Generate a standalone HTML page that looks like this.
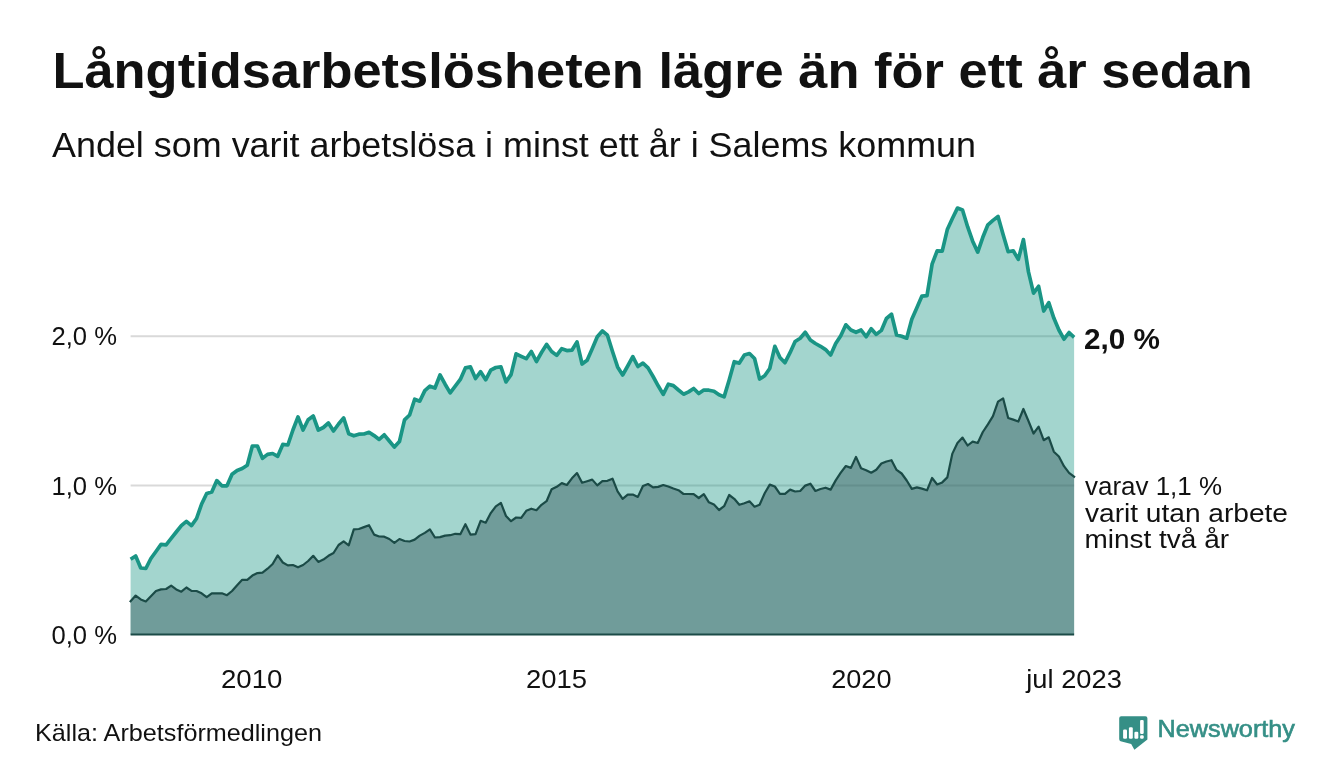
<!DOCTYPE html>
<html lang="sv"><head><meta charset="utf-8"><title>Långtidsarbetslösheten lägre än för ett år sedan</title>
<style>
html,body{margin:0;padding:0;background:#fff;}
body{width:1340px;height:780px;overflow:hidden;font-family:"Liberation Sans",sans-serif;}
svg{display:block;will-change:transform}
text{font-family:"Liberation Sans",sans-serif;}
</style></head><body>
<svg width="1340" height="780" viewBox="0 0 1340 780">
<rect width="1340" height="780" fill="#ffffff"/>
<!-- gridlines under semi-transparent fills -->
<g stroke="#d9d9d9" stroke-width="2">
<line x1="130.6" x2="1074.1222" y1="336.3" y2="336.3"/>
<line x1="130.6" x2="1074.1222" y1="485.4" y2="485.4"/>
</g>
<!-- upper series -->
<path d="M130.6,634.6 L130.6,559.2 L135.67,556 L140.75,568 L145.82,568.5 L150.89,558.5 L155.96,551.5 L161.04,544.4 L166.11,544.8 L171.18,538.4 L176.25,532 L181.33,525.6 L186.4,521.3 L191.47,525.6 L196.55,518.5 L201.62,504 L206.69,493.5 L211.76,492 L216.84,480.6 L221.91,485.8 L226.98,485.8 L232.05,474.2 L237.13,470.4 L242.2,468.5 L247.27,465.2 L252.34,446 L257.42,446 L262.49,458.3 L267.56,454.4 L272.64,453.5 L277.71,456.3 L282.78,444.4 L287.85,445 L292.93,430 L298.0,416.9 L303.07,430 L308.14,419.8 L313.22,416 L318.29,430 L323.36,427.5 L328.44,423 L333.51,431 L338.58,424 L343.65,417.9 L348.73,433.8 L353.8,435.8 L358.87,434.2 L363.94,434 L369.02,432.3 L374.09,435.6 L379.16,439.4 L384.24,434.8 L389.31,441 L394.38,447.1 L399.45,441.5 L404.53,419.8 L409.6,415 L414.67,399.2 L419.74,401.2 L424.82,390.6 L429.89,386.2 L434.96,388 L440.03,375 L445.11,384.2 L450.18,392.9 L455.25,386.2 L460.33,379.4 L465.4,367.9 L470.47,366.9 L475.54,378.5 L480.62,371.7 L485.69,379.8 L490.76,370.2 L495.83,367.5 L500.91,366.9 L505.98,381.9 L511.05,374.6 L516.13,353.8 L521.2,356.3 L526.27,358.7 L531.34,351.5 L536.42,361.5 L541.49,352.5 L546.56,344.4 L551.63,351.5 L556.71,355.4 L561.78,348.7 L566.85,350.6 L571.92,350.2 L577.0,341.9 L582.07,364 L587.14,360.2 L592.22,348.7 L597.29,336.7 L602.36,331 L607.43,335.2 L612.51,351.5 L617.58,366.9 L622.65,375 L627.72,366 L632.8,356.7 L637.87,366.5 L642.94,363.1 L648.02,367.9 L653.09,376.5 L658.16,385.8 L663.23,394.4 L668.31,384.2 L673.38,385.6 L678.45,390 L683.52,394.2 L688.6,391.9 L693.67,388.5 L698.74,393.5 L703.82,390 L708.89,390.2 L713.96,391.2 L719.03,394.8 L724.11,396.9 L729.18,380 L734.25,361.7 L739.32,363.1 L744.4,355 L749.47,353.5 L754.54,358.5 L759.61,379 L764.69,375.8 L769.76,368.5 L774.83,346.3 L779.91,357.5 L784.98,362.7 L790.05,352.7 L795.12,341.5 L800.2,338.3 L805.27,332.3 L810.34,340 L815.41,343.5 L820.49,346.3 L825.56,349.6 L830.63,355 L835.71,343.5 L840.78,335.8 L845.85,324.8 L850.92,330 L856.0,332.3 L861.07,330 L866.14,336.7 L871.21,328.7 L876.29,334.4 L881.36,330.4 L886.43,318.5 L891.51,314.2 L896.58,335 L901.65,336.2 L906.72,338.2 L911.8,319.2 L916.87,307.7 L921.94,296.1 L927.01,295.6 L932.09,264.2 L937.16,250.8 L942.23,251.2 L947.3,229.6 L952.38,218.5 L957.45,208.1 L962.52,210 L967.6,226.7 L972.67,241.2 L977.74,252.1 L982.81,237.3 L987.89,224.8 L992.96,220.4 L998.03,216.5 L1003.1,234.4 L1008.18,251.7 L1013.25,250.8 L1018.32,259.4 L1023.4,239.6 L1028.47,271.9 L1033.54,293.1 L1038.61,286.3 L1043.69,311 L1048.76,302.7 L1053.83,318.1 L1058.9,330 L1063.98,339.2 L1069.05,332.5 L1074.12,337.3 L1074.12,634.6 Z" fill="#1a9585" fill-opacity="0.4"/>
<!-- lower series -->
<path d="M130.6,634.6 L130.6,601.3 L135.67,595.6 L140.75,599.4 L145.82,601.5 L150.89,596.2 L155.96,591 L161.04,589.4 L166.11,589 L171.18,585.6 L176.25,589.4 L181.33,591.7 L186.4,587.5 L191.47,590.8 L196.55,591 L201.62,593.3 L206.69,597.1 L211.76,593.3 L216.84,593.3 L221.91,593.3 L226.98,595.2 L232.05,591 L237.13,585.2 L242.2,579.8 L247.27,579.8 L252.34,575.6 L257.42,573.1 L262.49,572.7 L267.56,568.7 L272.64,564 L277.71,555.4 L282.78,562.5 L287.85,565.4 L292.93,565 L298.0,567.3 L303.07,565 L308.14,561 L313.22,555.8 L318.29,561.9 L323.36,559.6 L328.44,555.8 L333.51,553 L338.58,545 L343.65,541.3 L348.73,545.4 L353.8,529.4 L358.87,529 L363.94,527.1 L369.02,525.2 L374.09,534.6 L379.16,536.5 L384.24,536.7 L389.31,539 L394.38,542.9 L399.45,539 L404.53,541 L409.6,541.5 L414.67,539.6 L419.74,535.6 L424.82,532.9 L429.89,529.4 L434.96,537.5 L440.03,537.1 L445.11,535.6 L450.18,535.2 L455.25,533.8 L460.33,534.2 L465.4,524.2 L470.47,534.6 L475.54,534.2 L480.62,520.8 L485.69,522.7 L490.76,513.1 L495.83,506.3 L500.91,502.9 L505.98,516 L511.05,521.2 L516.13,517.5 L521.2,517.9 L526.27,510.8 L531.34,508.7 L536.42,510.2 L541.49,504.8 L546.56,501.2 L551.63,489.3 L556.71,486.8 L561.78,483.1 L566.85,485 L571.92,478.3 L577.0,473.1 L582.07,482.7 L587.14,481.2 L592.22,479.6 L597.29,485.4 L602.36,481.2 L607.43,480.8 L612.51,478.7 L617.58,491.3 L622.65,498.8 L627.72,494.6 L632.8,494.6 L637.87,496.9 L642.94,486 L648.02,484 L653.09,487.3 L658.16,486.9 L663.23,485 L668.31,486.5 L673.38,488.5 L678.45,490.2 L683.52,494 L688.6,494 L693.67,494.2 L698.74,498 L703.82,494.2 L708.89,502.3 L713.96,504.6 L719.03,510 L724.11,506.2 L729.18,495 L734.25,498.8 L739.32,504.8 L744.4,503.3 L749.47,501.3 L754.54,506.7 L759.61,504.8 L764.69,493.3 L769.76,484.6 L774.83,486.5 L779.91,493.8 L784.98,493.8 L790.05,489.6 L795.12,491.5 L800.2,491 L805.27,485.6 L810.34,483.7 L815.41,491 L820.49,489 L825.56,487.7 L830.63,489.6 L835.71,480.4 L840.78,472.7 L845.85,466 L850.92,467.9 L856.0,456.9 L861.07,468.3 L866.14,470.2 L871.21,472.7 L876.29,469.8 L881.36,463.5 L886.43,461.5 L891.51,460.2 L896.58,469.9 L901.65,473.5 L906.72,480.5 L911.8,488.9 L916.87,487.4 L921.94,488.6 L927.01,490.3 L932.09,478 L937.16,484.5 L942.23,482.4 L947.3,477.4 L952.38,453.6 L957.45,443 L962.52,437.6 L967.6,445.5 L972.67,441.6 L977.74,443 L982.81,432 L987.89,424.4 L992.96,416.2 L998.03,401.7 L1003.1,398.3 L1008.18,418 L1013.25,419.6 L1018.32,421.5 L1023.4,409 L1028.47,421 L1033.54,433.5 L1038.61,426.7 L1043.69,440.2 L1048.76,437.3 L1053.83,451.7 L1058.9,456.5 L1063.98,466.2 L1069.05,472.9 L1074.12,476.7 L1074.12,634.6 Z" fill="#32575a" fill-opacity="0.45"/>
<polyline points="130.6,601.3 135.67,595.6 140.75,599.4 145.82,601.5 150.89,596.2 155.96,591 161.04,589.4 166.11,589 171.18,585.6 176.25,589.4 181.33,591.7 186.4,587.5 191.47,590.8 196.55,591 201.62,593.3 206.69,597.1 211.76,593.3 216.84,593.3 221.91,593.3 226.98,595.2 232.05,591 237.13,585.2 242.2,579.8 247.27,579.8 252.34,575.6 257.42,573.1 262.49,572.7 267.56,568.7 272.64,564 277.71,555.4 282.78,562.5 287.85,565.4 292.93,565 298.0,567.3 303.07,565 308.14,561 313.22,555.8 318.29,561.9 323.36,559.6 328.44,555.8 333.51,553 338.58,545 343.65,541.3 348.73,545.4 353.8,529.4 358.87,529 363.94,527.1 369.02,525.2 374.09,534.6 379.16,536.5 384.24,536.7 389.31,539 394.38,542.9 399.45,539 404.53,541 409.6,541.5 414.67,539.6 419.74,535.6 424.82,532.9 429.89,529.4 434.96,537.5 440.03,537.1 445.11,535.6 450.18,535.2 455.25,533.8 460.33,534.2 465.4,524.2 470.47,534.6 475.54,534.2 480.62,520.8 485.69,522.7 490.76,513.1 495.83,506.3 500.91,502.9 505.98,516 511.05,521.2 516.13,517.5 521.2,517.9 526.27,510.8 531.34,508.7 536.42,510.2 541.49,504.8 546.56,501.2 551.63,489.3 556.71,486.8 561.78,483.1 566.85,485 571.92,478.3 577.0,473.1 582.07,482.7 587.14,481.2 592.22,479.6 597.29,485.4 602.36,481.2 607.43,480.8 612.51,478.7 617.58,491.3 622.65,498.8 627.72,494.6 632.8,494.6 637.87,496.9 642.94,486 648.02,484 653.09,487.3 658.16,486.9 663.23,485 668.31,486.5 673.38,488.5 678.45,490.2 683.52,494 688.6,494 693.67,494.2 698.74,498 703.82,494.2 708.89,502.3 713.96,504.6 719.03,510 724.11,506.2 729.18,495 734.25,498.8 739.32,504.8 744.4,503.3 749.47,501.3 754.54,506.7 759.61,504.8 764.69,493.3 769.76,484.6 774.83,486.5 779.91,493.8 784.98,493.8 790.05,489.6 795.12,491.5 800.2,491 805.27,485.6 810.34,483.7 815.41,491 820.49,489 825.56,487.7 830.63,489.6 835.71,480.4 840.78,472.7 845.85,466 850.92,467.9 856.0,456.9 861.07,468.3 866.14,470.2 871.21,472.7 876.29,469.8 881.36,463.5 886.43,461.5 891.51,460.2 896.58,469.9 901.65,473.5 906.72,480.5 911.8,488.9 916.87,487.4 921.94,488.6 927.01,490.3 932.09,478 937.16,484.5 942.23,482.4 947.3,477.4 952.38,453.6 957.45,443 962.52,437.6 967.6,445.5 972.67,441.6 977.74,443 982.81,432 987.89,424.4 992.96,416.2 998.03,401.7 1003.1,398.3 1008.18,418 1013.25,419.6 1018.32,421.5 1023.4,409 1028.47,421 1033.54,433.5 1038.61,426.7 1043.69,440.2 1048.76,437.3 1053.83,451.7 1058.9,456.5 1063.98,466.2 1069.05,472.9 1074.12,476.7" fill="none" stroke="#1b4b47" stroke-width="2.2" stroke-linejoin="round" stroke-linecap="square"/>
<polyline points="130.6,559.2 135.67,556 140.75,568 145.82,568.5 150.89,558.5 155.96,551.5 161.04,544.4 166.11,544.8 171.18,538.4 176.25,532 181.33,525.6 186.4,521.3 191.47,525.6 196.55,518.5 201.62,504 206.69,493.5 211.76,492 216.84,480.6 221.91,485.8 226.98,485.8 232.05,474.2 237.13,470.4 242.2,468.5 247.27,465.2 252.34,446 257.42,446 262.49,458.3 267.56,454.4 272.64,453.5 277.71,456.3 282.78,444.4 287.85,445 292.93,430 298.0,416.9 303.07,430 308.14,419.8 313.22,416 318.29,430 323.36,427.5 328.44,423 333.51,431 338.58,424 343.65,417.9 348.73,433.8 353.8,435.8 358.87,434.2 363.94,434 369.02,432.3 374.09,435.6 379.16,439.4 384.24,434.8 389.31,441 394.38,447.1 399.45,441.5 404.53,419.8 409.6,415 414.67,399.2 419.74,401.2 424.82,390.6 429.89,386.2 434.96,388 440.03,375 445.11,384.2 450.18,392.9 455.25,386.2 460.33,379.4 465.4,367.9 470.47,366.9 475.54,378.5 480.62,371.7 485.69,379.8 490.76,370.2 495.83,367.5 500.91,366.9 505.98,381.9 511.05,374.6 516.13,353.8 521.2,356.3 526.27,358.7 531.34,351.5 536.42,361.5 541.49,352.5 546.56,344.4 551.63,351.5 556.71,355.4 561.78,348.7 566.85,350.6 571.92,350.2 577.0,341.9 582.07,364 587.14,360.2 592.22,348.7 597.29,336.7 602.36,331 607.43,335.2 612.51,351.5 617.58,366.9 622.65,375 627.72,366 632.8,356.7 637.87,366.5 642.94,363.1 648.02,367.9 653.09,376.5 658.16,385.8 663.23,394.4 668.31,384.2 673.38,385.6 678.45,390 683.52,394.2 688.6,391.9 693.67,388.5 698.74,393.5 703.82,390 708.89,390.2 713.96,391.2 719.03,394.8 724.11,396.9 729.18,380 734.25,361.7 739.32,363.1 744.4,355 749.47,353.5 754.54,358.5 759.61,379 764.69,375.8 769.76,368.5 774.83,346.3 779.91,357.5 784.98,362.7 790.05,352.7 795.12,341.5 800.2,338.3 805.27,332.3 810.34,340 815.41,343.5 820.49,346.3 825.56,349.6 830.63,355 835.71,343.5 840.78,335.8 845.85,324.8 850.92,330 856.0,332.3 861.07,330 866.14,336.7 871.21,328.7 876.29,334.4 881.36,330.4 886.43,318.5 891.51,314.2 896.58,335 901.65,336.2 906.72,338.2 911.8,319.2 916.87,307.7 921.94,296.1 927.01,295.6 932.09,264.2 937.16,250.8 942.23,251.2 947.3,229.6 952.38,218.5 957.45,208.1 962.52,210 967.6,226.7 972.67,241.2 977.74,252.1 982.81,237.3 987.89,224.8 992.96,220.4 998.03,216.5 1003.1,234.4 1008.18,251.7 1013.25,250.8 1018.32,259.4 1023.4,239.6 1028.47,271.9 1033.54,293.1 1038.61,286.3 1043.69,311 1048.76,302.7 1053.83,318.1 1058.9,330 1063.98,339.2 1069.05,332.5 1074.12,337.3" fill="none" stroke="#1a9585" stroke-width="3.7" stroke-linejoin="round" stroke-linecap="butt"/>
<line x1="130.6" x2="1074.1222" y1="634.6" y2="634.6" stroke="#1b4b47" stroke-width="2"/>
<!-- logo -->
<g>
<path d="M1121.2,716.2 H1145.4 Q1147.4,716.2 1147.4,718.2 V739.6 L1134.4,749.8 L1131.2,744 L1120.6,741.2 Q1119.2,740.8 1119.2,739 V718.2 Q1119.2,716.2 1121.2,716.2 Z" fill="#358f86"/>
<g fill="#fff">
<rect x="1123.1" y="729.5" width="3.9" height="9.3" rx="1.2"/>
<rect x="1128.9" y="727.2" width="3.9" height="11.6" rx="1.2"/>
<rect x="1134.4" y="731.7" width="3.9" height="7.1" rx="1.2"/>
<rect x="1140.1" y="719.9" width="3.6" height="14.1" rx="1.2"/>
<rect x="1140.1" y="735.2" width="3.6" height="3.6" rx="1.2"/>
</g>
</g>
<!-- text -->
<g>
<text x="52.4" y="87.6" font-size="50.6" font-weight="bold" fill="#111111" textLength="1200.5" lengthAdjust="spacingAndGlyphs">Långtidsarbetslösheten lägre än för ett år sedan</text>
<text x="52" y="157" font-size="34.3" font-weight="normal" fill="#111111" textLength="924" lengthAdjust="spacingAndGlyphs">Andel som varit arbetslösa i minst ett år i Salems kommun</text>
<text x="51.5" y="345.3" font-size="25" font-weight="normal" fill="#111111" textLength="65.5" lengthAdjust="spacingAndGlyphs">2,0 %</text>
<text x="51.5" y="494.5" font-size="25" font-weight="normal" fill="#111111" textLength="65.5" lengthAdjust="spacingAndGlyphs">1,0 %</text>
<text x="51.5" y="644.3" font-size="25" font-weight="normal" fill="#111111" textLength="65.5" lengthAdjust="spacingAndGlyphs">0,0 %</text>
<text x="221" y="688" font-size="25" font-weight="normal" fill="#111111" textLength="61.5" lengthAdjust="spacingAndGlyphs">2010</text>
<text x="526" y="688" font-size="25" font-weight="normal" fill="#111111" textLength="61" lengthAdjust="spacingAndGlyphs">2015</text>
<text x="831.2" y="688" font-size="25" font-weight="normal" fill="#111111" textLength="60.3" lengthAdjust="spacingAndGlyphs">2020</text>
<text x="1026.3" y="688" font-size="25" font-weight="normal" fill="#111111" textLength="95.5" lengthAdjust="spacingAndGlyphs">jul 2023</text>
<text x="35" y="740.6" font-size="23.6" font-weight="normal" fill="#111111" textLength="287" lengthAdjust="spacingAndGlyphs">Källa: Arbetsförmedlingen</text>
<text x="1084" y="348.6" font-size="29.8" font-weight="bold" fill="#111111" textLength="76" lengthAdjust="spacingAndGlyphs">2,0 %</text>
<text x="1085" y="495" font-size="25" font-weight="normal" fill="#111111" textLength="137" lengthAdjust="spacingAndGlyphs">varav 1,1 %</text>
<text x="1085" y="521.5" font-size="25" font-weight="normal" fill="#111111" textLength="203" lengthAdjust="spacingAndGlyphs">varit utan arbete</text>
<text x="1084.5" y="548" font-size="25" font-weight="normal" fill="#111111" textLength="144.5" lengthAdjust="spacingAndGlyphs">minst två år</text>
<text x="1157.5" y="736.9" font-size="23.2" font-weight="normal" fill="#358f86" textLength="137.5" lengthAdjust="spacingAndGlyphs" stroke="#358f86" stroke-width="0.6">Newsworthy</text>
</g>
</svg>
</body></html>
